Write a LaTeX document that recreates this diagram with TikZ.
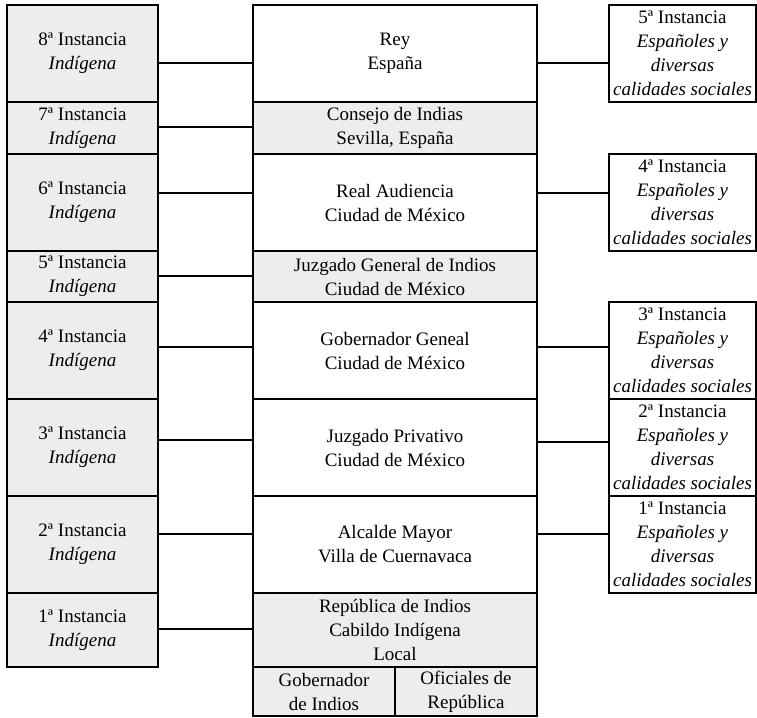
\documentclass[tikz,border=0pt]{standalone}
\usepackage{fontspec}
\setmainfont{Liberation Serif}
\usetikzlibrary{positioning}
\tikzstyle{caja} = [rectangle, draw=black, line width=1.3pt, anchor=north west, inner sep=0pt, outer sep=0pt, align=center, font=\fontsize{19}{24}\selectfont]
\tikzstyle{gris} = [caja, fill=black!7]
\tikzstyle{linea} = [draw=black, line width=1.3pt]

\begin{document}
\begin{tikzpicture}[x=1pt, y=-1pt, node distance=0pt]
\useasboundingbox (0,0) rectangle (757,717);

% instancias indigenas
\node (l8) [gris, minimum width=151pt, minimum height=97pt] at (7,5) {8ª Instancia\\\textit{Indígena}};
\node (l7) [gris, minimum width=151pt, minimum height=52pt, below=of l8] {7ª Instancia\\\textit{Indígena}};
\node (l6) [gris, minimum width=151pt, minimum height=97pt, below=of l7] {6ª Instancia\\\textit{Indígena}};
\node (l5) [gris, minimum width=151pt, minimum height=51pt, below=of l6] {5ª Instancia\\\textit{Indígena}};
\node (l4) [gris, minimum width=151pt, minimum height=97pt, below=of l5] {4ª Instancia\\\textit{Indígena}};
\node (l3) [gris, minimum width=151pt, minimum height=97pt, below=of l4] {3ª Instancia\\\textit{Indígena}};
\node (l2) [gris, minimum width=151pt, minimum height=97pt, below=of l3] {2ª Instancia\\\textit{Indígena}};
\node (l1) [gris, minimum width=151pt, minimum height=74pt, below=of l2] {1ª Instancia\\\textit{Indígena}};

% autoridades
\node (rey) [caja, minimum width=284pt, minimum height=97pt] at (253,5) {Rey\\España};
\node (consejo) [gris, minimum width=284pt, minimum height=52pt, below=of rey] {Consejo de Indias\\Sevilla, España};
\node (audiencia) [caja, minimum width=284pt, minimum height=97pt, below=of consejo] {Real Audiencia\\Ciudad de México};
\node (juzgen) [gris, minimum width=284pt, minimum height=51pt, below=of audiencia] {Juzgado General de Indios\\Ciudad de México};
\node (gobgen) [caja, minimum width=284pt, minimum height=97pt, below=of juzgen] {Gobernador Geneal\\Ciudad de México};
\node (privativo) [caja, minimum width=284pt, minimum height=97pt, below=of gobgen] {Juzgado Privativo\\Ciudad de México};
\node (alcalde) [caja, minimum width=284pt, minimum height=97pt, below=of privativo] {Alcalde Mayor\\Villa de Cuernavaca};
\node (republica) [gris, minimum width=284pt, minimum height=74pt, below=of alcalde] {República de Indios\\Cabildo Indígena\\Local};
\node (gobind) [gris, minimum width=142pt, minimum height=49pt] at (253,667) {Gobernador\\de Indios};
\node (oficiales) [gris, minimum width=142pt, minimum height=49pt, right=of gobind] {Oficiales de\\República};

% instancias de espanoles
\node (r5) [caja, minimum width=147pt, minimum height=97pt] at (609,5) {5ª Instancia\\\textit{Españoles y}\\\textit{diversas}\\\textit{calidades sociales}};
\node (r4) [caja, minimum width=147pt, minimum height=97pt] at (609,154) {4ª Instancia\\\textit{Españoles y}\\\textit{diversas}\\\textit{calidades sociales}};
\node (r3) [caja, minimum width=147pt, minimum height=97pt] at (609,302) {3ª Instancia\\\textit{Españoles y}\\\textit{diversas}\\\textit{calidades sociales}};
\node (r2) [caja, minimum width=147pt, minimum height=97pt, below=of r3] {2ª Instancia\\\textit{Españoles y}\\\textit{diversas}\\\textit{calidades sociales}};
\node (r1) [caja, minimum width=147pt, minimum height=97pt, below=of r2] {1ª Instancia\\\textit{Españoles y}\\\textit{diversas}\\\textit{calidades sociales}};

% lineas
\draw [linea] ([yshift=-9.5pt]l8.east) -- ([yshift=-9.5pt]rey.west);
\draw [linea] ([yshift=1pt]l7.east) -- ([yshift=1pt]consejo.west);
\draw [linea] ([yshift=9.5pt]l6.east) -- ([yshift=9.5pt]audiencia.west);
\draw [linea] ([yshift=0.5pt]l5.east) -- ([yshift=0.5pt]juzgen.west);
\draw [linea] ([yshift=3.5pt]l4.east) -- ([yshift=3.5pt]gobgen.west);
\draw [linea] ([yshift=7.5pt]l3.east) -- ([yshift=7.5pt]privativo.west);
\draw [linea] ([yshift=10.5pt]l2.east) -- ([yshift=10.5pt]alcalde.west);
\draw [linea] ([yshift=1pt]l1.east) -- ([yshift=1pt]republica.west);
\draw [linea] ([yshift=-9.5pt]rey.east) -- ([yshift=-9.5pt]r5.west);
\draw [linea] ([yshift=9.5pt]audiencia.east) -- ([yshift=9.5pt]r4.west);
\draw [linea] ([yshift=3.5pt]gobgen.east) -- ([yshift=3.5pt]r3.west);
\draw [linea] ([yshift=5.5pt]privativo.east) -- ([yshift=5.5pt]r2.west);
\draw [linea] ([yshift=10.5pt]alcalde.east) -- ([yshift=10.5pt]r1.west);

\end{tikzpicture}
\end{document}
